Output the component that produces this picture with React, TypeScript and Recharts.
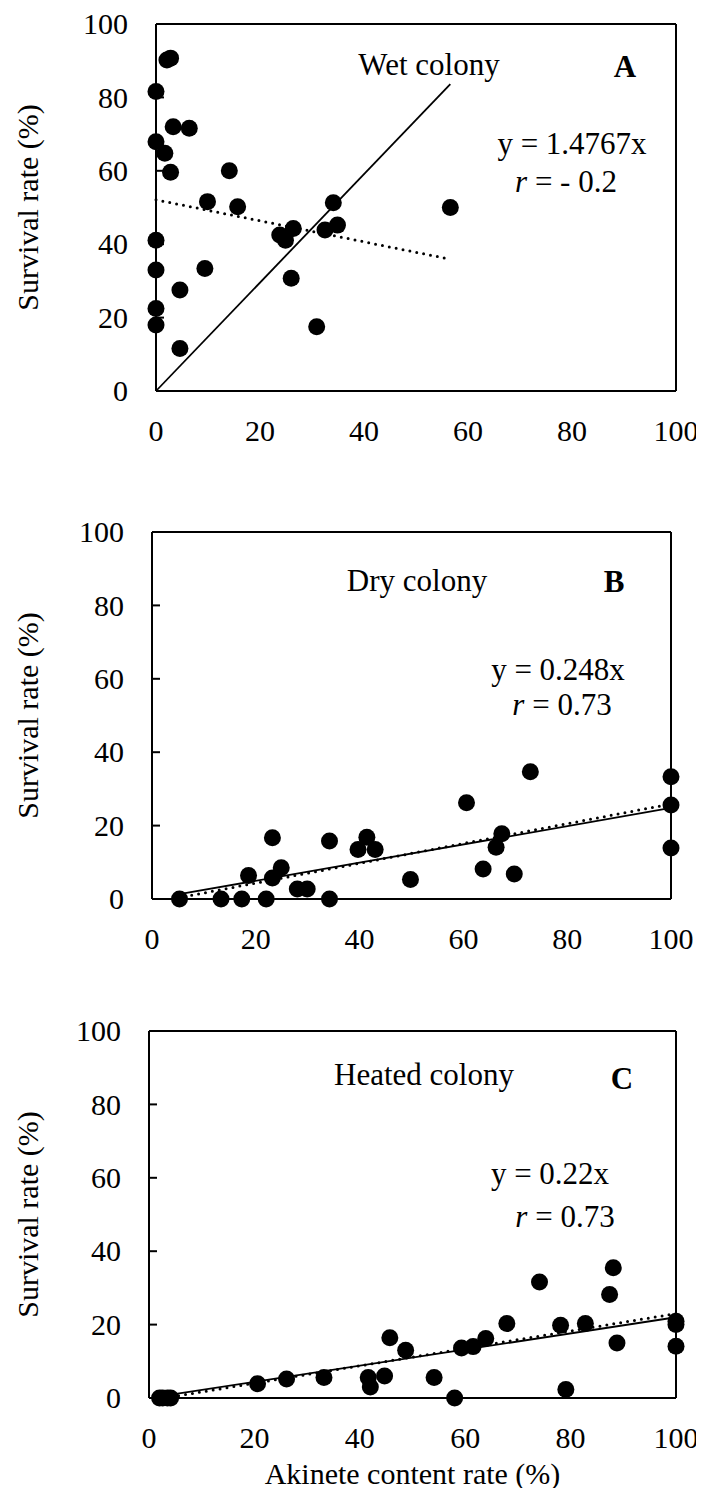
import { ScatterChart, Scatter, XAxis, YAxis, ReferenceLine } from 'recharts'

const FONT = '"Liberation Serif", "Times New Roman", serif'
const axisTicks = [0, 20, 40, 60, 80, 100]

// A: wet colony
const wetPoints = [
  { x: 2.1, y: 90.2 }, { x: 2.8, y: 90.7 }, { x: 0, y: 81.6 }, { x: 3.3, y: 72.0 },
  { x: 6.4, y: 71.6 }, { x: 0, y: 67.9 }, { x: 1.7, y: 64.8 }, { x: 2.8, y: 59.6 },
  { x: 14.1, y: 60.0 }, { x: 9.9, y: 51.6 }, { x: 15.7, y: 50.2 }, { x: 34.1, y: 51.3 },
  { x: 56.6, y: 50.0 }, { x: 23.8, y: 42.5 }, { x: 24.9, y: 41.1 }, { x: 26.4, y: 44.3 },
  { x: 32.5, y: 43.9 }, { x: 34.9, y: 45.2 }, { x: 0, y: 41.1 }, { x: 0, y: 33.0 },
  { x: 9.4, y: 33.4 }, { x: 26.0, y: 30.7 }, { x: 4.6, y: 27.5 }, { x: 0, y: 22.5 },
  { x: 0, y: 18.0 }, { x: 30.9, y: 17.5 }, { x: 4.6, y: 11.6 },
]
const wetFit = [{ x: 0, y: 0 }, { x: 56.6, y: 83.6 }]
const wetTrend = [{ x: 0, y: 52.1 }, { x: 56.6, y: 35.9 }]

// B: dry colony
const dryPoints = [
  { x: 5.3, y: 0 }, { x: 13.3, y: 0 }, { x: 17.3, y: 0 }, { x: 22.0, y: 0 }, { x: 34.2, y: 0 },
  { x: 18.6, y: 6.4 }, { x: 23.2, y: 16.7 }, { x: 23.2, y: 5.7 }, { x: 24.9, y: 8.5 },
  { x: 28.0, y: 2.7 }, { x: 29.9, y: 2.7 }, { x: 34.2, y: 15.8 }, { x: 39.7, y: 13.5 },
  { x: 41.4, y: 16.8 }, { x: 43.0, y: 13.5 }, { x: 49.8, y: 5.3 }, { x: 60.6, y: 26.2 },
  { x: 63.8, y: 8.2 }, { x: 66.3, y: 14.1 }, { x: 67.4, y: 17.8 }, { x: 69.8, y: 6.8 },
  { x: 72.9, y: 34.7 }, { x: 100, y: 33.3 }, { x: 100, y: 25.6 }, { x: 100, y: 13.9 },
]
const dryFit = [{ x: 5, y: 1.24 }, { x: 100, y: 24.8 }]
const dryTrend = [{ x: 5, y: 0.3 }, { x: 100, y: 25.9 }]

// C: heated colony
const heatedPoints = [
  { x: 2.0, y: 0 }, { x: 2.6, y: 0 }, { x: 3.5, y: 0 }, { x: 4.1, y: 0 },
  { x: 20.6, y: 3.9 }, { x: 26.1, y: 5.2 }, { x: 33.2, y: 5.6 }, { x: 41.6, y: 5.6 },
  { x: 42.0, y: 3.0 }, { x: 44.7, y: 6.0 }, { x: 45.7, y: 16.4 }, { x: 48.7, y: 13.0 },
  { x: 54.1, y: 5.6 }, { x: 58.0, y: 0 }, { x: 59.3, y: 13.6 }, { x: 61.5, y: 14.0 },
  { x: 63.9, y: 16.2 }, { x: 67.9, y: 20.3 }, { x: 74.1, y: 31.6 }, { x: 78.1, y: 19.8 },
  { x: 79.1, y: 2.3 }, { x: 82.8, y: 20.3 }, { x: 87.4, y: 28.2 }, { x: 88.1, y: 35.5 },
  { x: 88.8, y: 15.0 }, { x: 100, y: 20.9 }, { x: 100, y: 20.0 }, { x: 100, y: 14.1 },
]
const heatedFit = [{ x: 2, y: 0.44 }, { x: 100, y: 22 }]
const heatedTrend = [{ x: 3, y: 0 }, { x: 100, y: 23 }]

function Dot(props: any) {
  return <circle cx={props.cx} cy={props.cy} r={8.5} fill="#000" />
}

function YTick({ x, y, payload }: any) {
  return (
    <g>
      <line x1={x + 28} x2={x + 36} y1={y} y2={y} stroke="#000" strokeWidth={2} />
      <text x={x} y={y} dy="0.34em" textAnchor="end" fontSize={30} fontFamily={FONT} fill="#000">
        {payload.value}
      </text>
    </g>
  )
}

function XTick({ x, y, payload }: any) {
  return (
    <text x={x} y={y} dy="0.71em" textAnchor="middle" fontSize={30} fontFamily={FONT} fill="#000">
      {payload.value}
    </text>
  )
}

interface PanelProps {
  top: number
  height: number
  axisWidth: number
  marginRight: number
  points: { x: number; y: number }[]
  fit: { x: number; y: number }[]
  trend: { x: number; y: number }[]
  name: string
  letter: string
  eq: string
  r: string
  nameX: number
  nameY: number
  letterX: number
  letterY: number
  eqX: number
  eqY: number
  rX: number
  rY: number
  xTitle?: boolean
}

function Panel(p: PanelProps) {
  const txt = { fontFamily: FONT, fontSize: 31, fill: '#000', textAnchor: 'middle' as const }
  return (
    <div style={{ position: 'absolute', left: 0, top: p.top, fontFamily: FONT }}>
      <ScatterChart width={696} height={p.height} margin={{ top: 16, right: p.marginRight, bottom: 0, left: 0 }}>
        <XAxis
          type="number"
          dataKey="x"
          domain={[0, 100]}
          ticks={axisTicks}
          tickSize={0}
          tickMargin={29}
          tickLine={false}
          tick={<XTick />}
          axisLine={{ stroke: '#000', strokeWidth: 2 }}
          height={p.height - 16 - 367}
          label={
            p.xTitle
              ? (lp: any) => {
                  const vb = lp.viewBox
                  return (
                    <text x={vb.x + vb.width / 2} y={469} textAnchor="middle" fontSize={30} fontFamily={FONT} fill="#000">
                      Akinete content rate (%)
                    </text>
                  )
                }
              : undefined
          }
        />
        <YAxis
          type="number"
          dataKey="y"
          domain={[0, 100]}
          ticks={axisTicks}
          tickSize={0}
          tickMargin={28}
          tickLine={false}
          tick={<YTick />}
          axisLine={{ stroke: '#000', strokeWidth: 2 }}
          width={p.axisWidth}
          label={(lp: any) => {
            const vb = lp.viewBox
            const cx = 19
            const cy = vb.y + vb.height / 2
            return (
              <text
                x={cx}
                y={cy}
                dy="0.35em"
                transform={`rotate(-90 ${cx} ${cy})`}
                textAnchor="middle"
                fontSize={30}
                fontFamily={FONT}
                fill="#000"
              >
                Survival rate (%)
              </text>
            )
          }}
        />
        <ReferenceLine y={100} stroke="#000" strokeWidth={2} />
        <ReferenceLine x={100} stroke="#000" strokeWidth={2} />
        <Scatter data={p.points} shape={<Dot />} isAnimationActive={false} />
        <Scatter
          data={p.trend}
          line={{ stroke: '#000', strokeWidth: 3, strokeDasharray: '0 7', strokeLinecap: 'round' }}
          shape={() => <g />}
          isAnimationActive={false}
        />
        <Scatter
          data={p.fit}
          line={{ stroke: '#000', strokeWidth: 1.8 }}
          shape={() => <g />}
          isAnimationActive={false}
        />
        <text x={p.nameX} y={p.nameY} {...txt}>{p.name}</text>
        <text x={p.letterX} y={p.letterY} {...txt} fontWeight="bold">{p.letter}</text>
        <text x={p.eqX} y={p.eqY} {...txt}>{p.eq}</text>
        <text x={p.rX} y={p.rY} {...txt}>
          <tspan fontStyle="italic">r</tspan>
          {p.r}
        </text>
      </ScatterChart>
    </div>
  )
}

export default function App() {
  return (
    <div style={{ position: 'relative', width: 688, height: 1480, background: '#fff', fontFamily: FONT }}>
      <Panel
        top={0}
        height={480}
        axisWidth={148}
        marginRight={28}
        points={wetPoints}
        fit={wetFit}
        trend={wetTrend}
        name="Wet colony"
        letter="A"
        eq="y = 1.4767x"
        r=" = - 0.2"
        nameX={421}
        nameY={67}
        letterX={617}
        letterY={69}
        eqX={564}
        eqY={146}
        rX={558}
        rY={184}
      />
      <Panel
        top={508}
        height={480}
        axisWidth={144}
        marginRight={33}
        points={dryPoints}
        fit={dryFit}
        trend={dryTrend}
        name="Dry colony"
        letter="B"
        eq="y = 0.248x"
        r=" = 0.73"
        nameX={409}
        nameY={75}
        letterX={606}
        letterY={76}
        eqX={550}
        eqY={164}
        rX={554}
        rY={199}
      />
      <Panel
        top={1007}
        height={476}
        axisWidth={141}
        marginRight={28}
        points={heatedPoints}
        fit={heatedFit}
        trend={heatedTrend}
        name="Heated colony"
        letter="C"
        eq="y = 0.22x"
        r=" = 0.73"
        nameX={416}
        nameY={70}
        letterX={614}
        letterY={74}
        eqX={542}
        eqY={169}
        rX={557}
        rY={212}
        xTitle
      />
    </div>
  )
}
